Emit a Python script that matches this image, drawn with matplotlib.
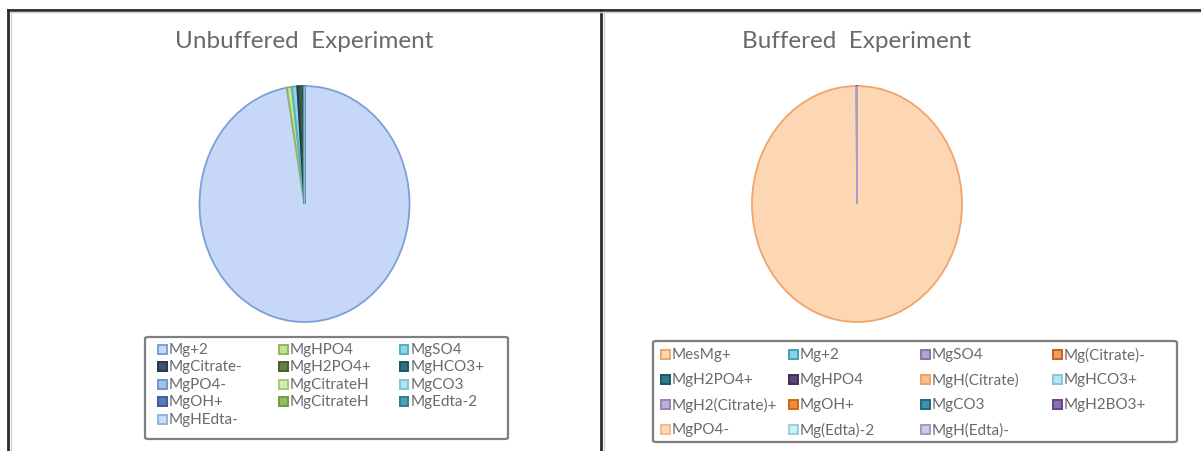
import matplotlib
matplotlib.use("Agg")
from matplotlib import pyplot as plt
from matplotlib.patches import Rectangle, FancyBboxPatch
from matplotlib.lines import Line2D

plt.rcParams["font.family"] = ["Lato", "DejaVu Sans"]

# ---- data ----
unbuf_labels = ["Mg+2", "MgHPO4", "MgSO4", "MgCitrate-", "MgH2PO4+", "MgHCO3+",
                "MgPO4-", "MgCitrateH", "MgCO3", "MgOH+", "MgCitrateH", "MgEdta-2",
                "MgHEdta-"]
unbuf_values = [97.3, 0.8, 0.8, 0.5, 0.3, 0.2, 0.03, 0.02, 0.02, 0.01, 0.01, 0.01, 0.0]
unbuf_colors = ["#c6d7f7", "#c4e09c", "#93d5e6", "#3e5272", "#65803f", "#2f7182",
                "#a7c0ea", "#d5e8b5", "#b5e4ef", "#5a7cbd", "#93bf5e", "#4aa2b6",
                "#cbdcf6"]
unbuf_edges = ["#7c9fda", "#8fb85a", "#4fb0c8", "#28364d", "#45602a", "#1f5461",
               "#7095d0", "#a8c97d", "#7cc8da", "#3d5c99", "#6f9c3d", "#2f7f92",
               "#93b2e4"]

buf_labels = ["MesMg+", "Mg+2", "MgSO4", "Mg(Citrate)-", "MgH2PO4+", "MgHPO4",
              "MgH(Citrate)", "MgHCO3+", "MgH2(Citrate)+", "MgOH+", "MgCO3",
              "MgH2BO3+", "MgPO4-", "Mg(Edta)-2", "MgH(Edta)-"]
buf_values = [99.95, 0.01, 0.03, 0.003, 0.002, 0.002, 0.001, 0.001, 0.001, 0.001,
              0.001, 0.0, 0.0, 0.0, 0.0]
buf_colors = ["#fdd6b4", "#8ed3e4", "#b4a3cc", "#f09a5c", "#2f7a8c", "#5b4876",
              "#fbbf8a", "#b9e3ee", "#bcaed6", "#f28a3e", "#3a93a8", "#8a6fb0",
              "#fcd9bb", "#d3eff6", "#d3c8e6"]
buf_edges = ["#f2a56a", "#3fa4bf", "#8a75a8", "#c8621e", "#1f5563", "#3f3055",
             "#f2a060", "#84c8da", "#9583b5", "#d0641a", "#226878", "#5e4785",
             "#f5b88a", "#93d2e2", "#a897c4"]

title_color = "#6a6a6a"
text_color = "#6a6a6a"

fig = plt.figure(figsize=(12.01, 4.52), dpi=100)
W, H = 1201.0, 452.0


def fx(px):
    return px / W


def fy(py):
    return 1 - py / H


# frame lines (table borders)
for xs, ys in [([8, 1201], [11, 11]), ([8, 8], [11, 452]), ([601, 601], [11, 452])]:
    fig.add_artist(Line2D([fx(x) for x in xs], [fy(y) for y in ys],
                          color="#2b2b2b", lw=2.0))
for xs, ys in [([10, 1201], [13, 13]), ([10.5, 10.5], [13, 452]), ([603.5, 603.5], [13, 452])]:
    fig.add_artist(Line2D([fx(x) for x in xs], [fy(y) for y in ys],
                          color="#d0d0d0", lw=1.0))


def draw_pie(cx, title, values, colors, edges):
    rx, ry = 105, 118
    cy = 205
    ax = fig.add_axes([fx(cx - rx), fy(cy + ry), rx * 2 / W, ry * 2 / H])
    wedges, _ = ax.pie(values, colors=colors, startangle=90, counterclock=False,
                       wedgeprops=dict(linewidth=1.3))
    for w, e in zip(wedges, edges):
        w.set_edgecolor(e)
        w.set_clip_on(False)
    ax.set_aspect("auto")
    ax.set_xlim(-1, 1)
    ax.set_ylim(-1, 1)
    ax.axis("off")
    fig.text(fx(cx), fy(42), title, ha="center", va="center",
             fontsize=17.5, color=title_color)


def draw_legend(box, x_cols, y_rows, labels, colors, edges, ncol):
    x0, y0, x1, y1 = box
    fig.add_artist(FancyBboxPatch((fx(x0), fy(y1)), fx(x1) - fx(x0), fy(y0) - fy(y1),
                                  boxstyle="round,pad=0,rounding_size=0.003",
                                  transform=fig.transFigure, facecolor="white",
                                  edgecolor="#7f7f7f", lw=1.6))
    for i, lab in enumerate(labels):
        r, c = divmod(i, ncol)
        mx, my = x_cols[c], y_rows[r]
        fig.add_artist(Rectangle((fx(mx - 4.5), fy(my + 4.5)), 9 / W, 9 / H,
                                 transform=fig.transFigure, facecolor=colors[i],
                                 edgecolor=edges[i], lw=1.4))
        fig.text(fx(mx + 7), fy(my), lab, ha="left", va="center",
                 fontsize=11, color=text_color)


draw_pie(304.5, "Unbuffered  Experiment", unbuf_values, unbuf_colors, unbuf_edges)
draw_pie(857, "Buffered  Experiment", buf_values, buf_colors, buf_edges)

draw_legend((145, 338, 508, 440), [162, 283, 404], [350, 367.5, 385, 402.5, 420],
            unbuf_labels, unbuf_colors, unbuf_edges, 3)
draw_legend((653, 342, 1177, 443), [665, 793, 925, 1057], [355, 380, 405, 430],
            buf_labels, buf_colors, buf_edges, 4)

plt.savefig("out.png", dpi=100)
